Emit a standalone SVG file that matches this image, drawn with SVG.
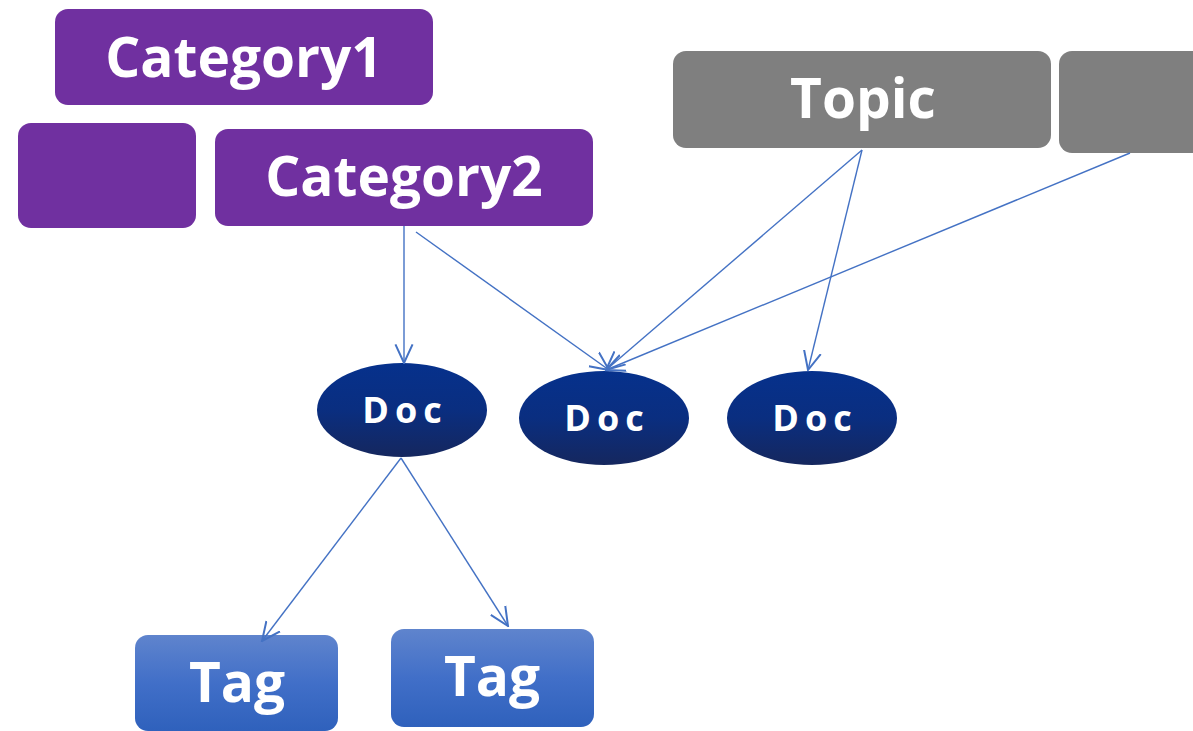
<svg xmlns="http://www.w3.org/2000/svg" width="1193" height="731" viewBox="0 0 1193 731">
<defs>
<linearGradient id="gDoc" x1="0" y1="0" x2="0" y2="1">
<stop offset="0" stop-color="#06318C"/><stop offset="0.5" stop-color="#0A2E80"/><stop offset="1" stop-color="#15275E"/>
</linearGradient>
<linearGradient id="gTag" x1="0" y1="0" x2="0" y2="1">
<stop offset="0" stop-color="#5F84CD"/><stop offset="0.5" stop-color="#416FC8"/><stop offset="1" stop-color="#2F61BC"/>
</linearGradient>
<marker id="arr" markerWidth="20" markerHeight="20" refX="13" refY="6" orient="auto" markerUnits="userSpaceOnUse" viewBox="0 0 14 12">
<path d="M0,0 L13,6 L0,12" fill="none" stroke="#4472C4" stroke-width="1.4"/>
</marker>
<style>
.cat{fill:#7030A0}
.top{fill:#7F7F7F}
.lbl{font-family:"Open Sans","Noto Sans",sans-serif;font-weight:700;fill:#fff;text-anchor:middle}
.doc{font-family:"Open Sans","Noto Sans",sans-serif;font-weight:700;fill:#fff;text-anchor:middle;font-size:36px;letter-spacing:6px}
.c{stroke:#4472C4;stroke-width:1.4;fill:none;marker-end:url(#arr)}
</style>
</defs>
<g id="category1"><rect class="cat" x="55" y="9" width="378" height="96" rx="13"/><text class="lbl" x="244" y="77" font-size="55">Category1</text></g>
<g id="category-blank"><rect class="cat" x="18" y="123" width="178" height="105" rx="13"/></g>
<g id="category2"><rect class="cat" x="215" y="129" width="378" height="97" rx="13"/><text class="lbl" x="404" y="196" font-size="55">Category2</text></g>
<g id="topic"><rect class="top" x="673" y="51" width="378" height="97" rx="13"/><text class="lbl" x="863" y="118" font-size="55">Topic</text></g>
<g id="topic-blank"><rect class="top" x="1059" y="51" width="150" height="102" rx="13"/></g>
<g id="doc1"><ellipse cx="402" cy="410" rx="85" ry="47" fill="url(#gDoc)"/><text class="doc" x="405" y="423">Doc</text></g>
<g id="doc2"><ellipse cx="604" cy="418" rx="85" ry="47" fill="url(#gDoc)"/><text class="doc" x="607" y="431">Doc</text></g>
<g id="doc3"><ellipse cx="812" cy="418" rx="85" ry="47" fill="url(#gDoc)"/><text class="doc" x="815" y="431">Doc</text></g>
<g id="tag1"><rect x="135" y="635" width="203" height="96" rx="13" fill="url(#gTag)"/><text class="lbl" x="237" y="702" font-size="55">Tag</text></g>
<g id="tag2"><rect x="391" y="629" width="203" height="98" rx="13" fill="url(#gTag)"/><text class="lbl" x="492" y="696" font-size="55">Tag</text></g>
<g id="connectors">
<line class="c" x1="404" y1="226" x2="404" y2="363"/>
<line class="c" x1="416" y1="232" x2="609" y2="370"/>
<line class="c" x1="862" y1="150" x2="606" y2="370"/>
<line class="c" x1="862" y1="150" x2="808" y2="370"/>
<line class="c" x1="1130" y1="153" x2="606" y2="370"/>
<line class="c" x1="401" y1="458" x2="262" y2="641"/>
<line class="c" x1="401" y1="458" x2="508" y2="626"/>
</g>
</svg>
